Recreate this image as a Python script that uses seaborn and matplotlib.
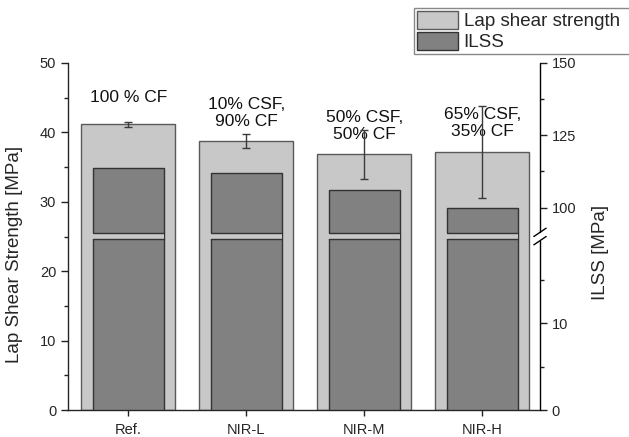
import matplotlib
matplotlib.use("Agg")
import matplotlib.pyplot as plt
import numpy as np
import pandas as pd
import seaborn as sns

# Sample groups and their fibre composition
categories = ["Ref.", "NIR-L", "NIR-M", "NIR-H"]
composition = ["100 % CF", "10% CSF,\n90% CF", "50% CSF,\n50% CF", "65% CSF,\n35% CF"]

# Lap shear strength (MPa) with standard deviation
lap_shear = [41.15, 38.75, 36.85, 37.15]
lap_shear_sd = [0.35, 0.95, 3.5, 6.65]

# Interlaminar shear strength (MPa)
ilss = [113.6, 111.9, 106.0, 99.8]

# Broken right axis: 0-20 maps to 0-25, 90-150 maps to 25-50 on the left scale
BREAK = 25.0
LOW_MAX, HIGH_MIN, HIGH_MAX, LEFT_MAX = 20.0, 90.0, 150.0, 50.0


def ilss_to_left(v):
    v = np.asarray(v, dtype=float)
    low = v * BREAK / LOW_MAX
    high = BREAK + (v - HIGH_MIN) * (LEFT_MAX - BREAK) / (HIGH_MAX - HIGH_MIN)
    return np.where(v <= LOW_MAX, low, high)


sns.set_theme(style="ticks")
plt.rcParams["font.family"] = ["Liberation Sans", "DejaVu Sans"]
plt.rcParams["axes.linewidth"] = 1.0

LIGHT = "#c8c8c8"
DARK = "#818181"
EDGE_LIGHT = "#5a5a5a"
EDGE_DARK = "#333333"

df = pd.DataFrame({
    "sample": categories,
    "lap": lap_shear,
    "ilss_scaled": ilss_to_left(ilss),
})

fig = plt.figure(figsize=(6.29, 4.37), dpi=100)
ax = fig.add_axes([68 / 629, 27 / 437, 472 / 629, 347 / 437])

sns.barplot(data=df, x="sample", y="lap", color=LIGHT, width=0.8,
            edgecolor=EDGE_LIGHT, linewidth=1.0, saturation=1, errorbar=None,
            ax=ax, zorder=2)
sns.barplot(data=df, x="sample", y="ilss_scaled", color=DARK, width=0.6,
            edgecolor=EDGE_DARK, linewidth=1.0, saturation=1, errorbar=None,
            ax=ax, zorder=3)

xpos = np.arange(len(categories))

# Axis-break band across the ILSS bars
band_lo, band_hi = 24.64, 25.5
ax.bar(xpos, band_hi - band_lo, bottom=band_lo, width=0.615, color=LIGHT,
       edgecolor="none", zorder=4)
for x in xpos:
    ax.plot([x - 0.3, x + 0.3], [band_lo, band_lo], color=EDGE_DARK, lw=1.0, zorder=5)
    ax.plot([x - 0.3, x + 0.3], [band_hi, band_hi], color=EDGE_DARK, lw=1.0, zorder=5)

# Composition labels above the bars
label_y = [45.1, 42.84, 40.87, 41.35]
for x, txt, y in zip(xpos, composition, label_y):
    ax.text(x, y, txt, ha="center", va="center", fontsize=12.5, color="#111111",
            linespacing=1.15, zorder=6)

ax.errorbar(xpos, lap_shear, yerr=lap_shear_sd, fmt="none", ecolor="#3a3a3a",
            elinewidth=1.0, capsize=3, capthick=1.0, zorder=7)

ax.set_xlim(-0.51, 3.49)
ax.set_ylim(0, 50)
ax.set_yticks([0, 10, 20, 30, 40, 50])
ax.set_yticks([5, 15, 25, 35, 45], minor=True)
ax.set_xlabel("")
ax.set_ylabel("Lap Shear Strength [MPa]", fontsize=13.5)
ax.yaxis.set_label_coords(-0.095, 0.447)
ax.tick_params(axis="both", which="major", labelsize=10.5, length=5, width=1,
               color="#222222", direction="out")
ax.tick_params(axis="y", which="minor", length=3, width=1, color="#222222")
ax.tick_params(axis="x", length=4, pad=5)
for s in ["top", "right"]:
    ax.spines[s].set_visible(False)

# Right axis (ILSS) with its break
ax2 = ax.twinx()
ax2.set_ylim(0, 50)
right_major = [0, 10, 100, 125, 150]
right_minor = [5, 15, 112.5, 137.5]
ax2.set_yticks(ilss_to_left(right_major))
ax2.set_yticklabels([str(v) for v in right_major])
ax2.set_yticks(ilss_to_left(right_minor), minor=True)
ax2.tick_params(axis="y", which="major", labelsize=10.5, length=5, width=1,
                color="#222222", direction="out")
ax2.tick_params(axis="y", which="minor", length=3, width=1, color="#222222")
ax2.set_ylabel("ILSS [MPa]", fontsize=13.5, rotation=90)
ax2.yaxis.set_label_coords(1.11, 0.455)
for s in ["top", "left", "bottom", "right"]:
    ax2.spines[s].set_visible(False)

gap = 0.012
brk = BREAK / LEFT_MAX
ax2.plot([1, 1], [0, brk - gap], transform=ax2.transAxes, color="black",
         lw=1.0, clip_on=False)
ax2.plot([1, 1], [brk + gap, 1], transform=ax2.transAxes, color="black",
         lw=1.0, clip_on=False)
for dy in (-gap, gap):
    ax2.plot([1 - 0.013, 1 + 0.013], [brk + dy - 0.012, brk + dy + 0.012],
             transform=ax2.transAxes, color="black", lw=1.0, clip_on=False)

handles = [plt.Rectangle((0, 0), 1, 1, facecolor=LIGHT, edgecolor=EDGE_LIGHT, lw=1.0),
           plt.Rectangle((0, 0), 1, 1, facecolor=DARK, edgecolor=EDGE_DARK, lw=1.0)]
fig.legend(handles, ["Lap shear strength", "ILSS"], loc="upper left",
           bbox_to_anchor=(414 / 629, 1 - 8 / 437, 0.45, 0), mode="expand",
           fontsize=13.5, frameon=True, fancybox=False, edgecolor="#888888",
           framealpha=1, borderpad=0.15, labelspacing=0.1, handlelength=2.2,
           handleheight=1.1, handletextpad=0.3, borderaxespad=0)

fig.savefig("out.png", dpi=100)
